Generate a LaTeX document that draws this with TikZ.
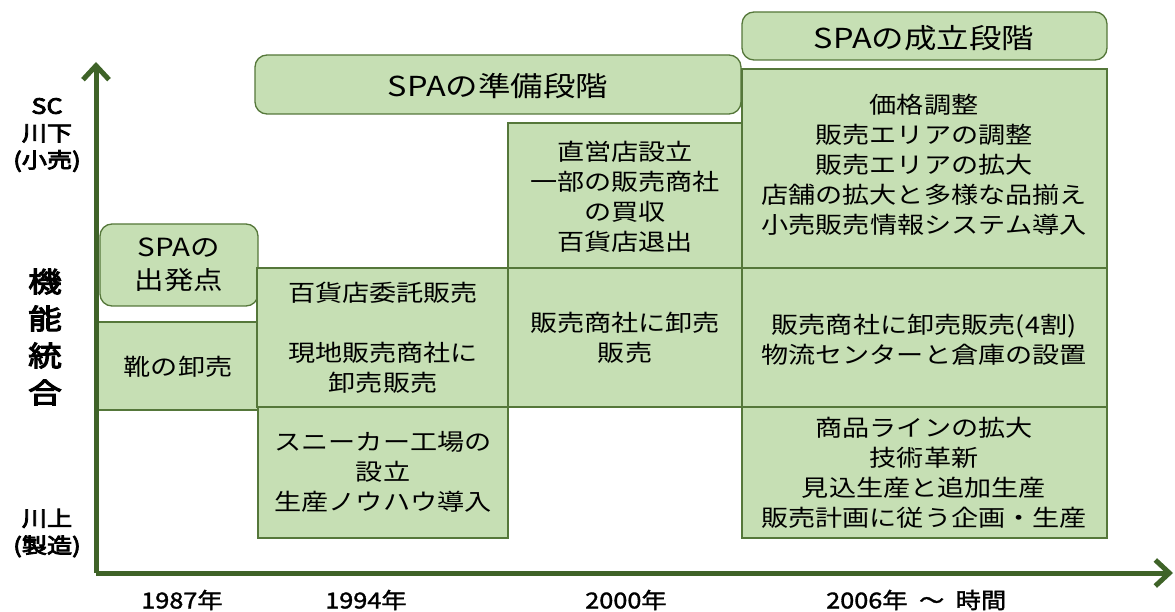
\documentclass[tikz,border=0pt]{standalone}
\usepackage{fontspec}
\newfontfamily\jp[FakeStretch=1.18]{Noto Sans CJK JP}
\newfontfamily\jpb[FakeStretch=1.2,FakeBold=4]{Noto Sans CJK JP}
\newfontfamily\jpm[FakeStretch=1.15,FakeBold=1.5]{Noto Sans CJK JP}
\usetikzlibrary{arrows.meta}
\definecolor{boxfill}{HTML}{C6DFB4}
\definecolor{boxline}{HTML}{55773A}
\definecolor{axis}{HTML}{3F6328}
\tikzset{
  cell/.style={draw=boxline,fill=boxfill,line width=1.3pt},
  stage/.style={draw=boxline,fill=boxfill,line width=1.3pt,rounded corners=12pt},
  txt/.style={font=\jp\fontsize{23}{30}\selectfont,align=center,text=black,inner sep=0pt},
  stagetxt/.style={font=\jp\fontsize{27.5}{31}\selectfont,align=center,text=black,inner sep=0pt},
  axlab/.style={font=\jpb\fontsize{21}{27}\selectfont,align=center,inner sep=0pt},
  yearlab/.style={font=\jpm\fontsize{22}{25}\selectfont,inner sep=0pt},
  axisline/.style={draw=axis,line width=5pt,-{Straight Barb[length=14pt,width=26pt,line width=5pt]}}
}
\begin{document}
\begin{tikzpicture}[x=1pt,y=-1pt]
\useasboundingbox (0,0) rectangle (1175,612);
% boxes
\draw[stage] (100,224) rectangle (258,306);
\node[txt,font=\jp\fontsize{25}{33}\selectfont] (r1) at (179,265) {SPAの\\出発点};
\draw[cell] (97,322) rectangle (258,410);
\node[txt] (b1) at (178,367) {靴の卸売};

\draw[stage] (255,55) rectangle (741,114);
\node[stagetxt] (r2) at (498,86) {SPAの準備段階};
\draw[cell] (257,268) rectangle (508,407);
\node[txt] (b2a) at (383,338) {百貨店委託販売\\[30pt]現地販売商社に\\卸売販売};
\draw[cell] (258,407) rectangle (508,538);
\node[txt] (b2b) at (383,472) {スニーカー工場の\\設立\\生産ノウハウ導入};

\draw[cell] (508,123) rectangle (742,268);
\node[txt] (b3a) at (625,197) {直営店設立\\一部の販売商社\\の買収\\百貨店退出};
\draw[cell] (508,268) rectangle (742,407);
\node[txt] (b3b) at (625,338) {販売商社に卸売\\販売};

\draw[stage] (742,12) rectangle (1107,60);
\node[stagetxt] (r3) at (924,38) {SPAの成立段階};
\draw[cell] (742,69) rectangle (1107,268);
\node[txt] (b4a) at (924,165) {価格調整\\販売エリアの調整\\販売エリアの拡大\\店舗の拡大と多様な品揃え\\小売販売情報システム導入};
\draw[cell] (742,268) rectangle (1107,407);
\node[txt] (b4b) at (924,340) {販売商社に卸売販売(4割)\\物流センターと倉庫の設置};
\draw[cell] (742,407) rectangle (1107,538);
\node[txt] (b4c) at (924,473) {商品ラインの拡大\\技術革新\\見込生産と追加生産\\販売計画に従う企画・生産};

% axes
\coordinate (o) at (96,573);
\coordinate (ytop) at (96,62);
\coordinate (xend) at (1173,573);
\draw[axisline] (o) -- (ytop);
\draw[axisline] (o) -- (xend);

% axis labels
\node[axlab] (up) at (47,135) {SC\\川下\\(小売)};
\node[axlab,font=\jpb\fontsize{28}{37}\selectfont] (mid) at (45,337) {機\\能\\統\\合};
\node[axlab] (down) at (47,533) {川上\\(製造)};

\node[yearlab] (y1) at (182,600) {1987年};
\node[yearlab] (y2) at (366,600) {1994年};
\node[yearlab] (y3) at (626,600) {2000年};
\node[yearlab,anchor=west] (y4) at (826,600) {2006年\ \ 〜\ \ 時間};
\end{tikzpicture}
\end{document}
